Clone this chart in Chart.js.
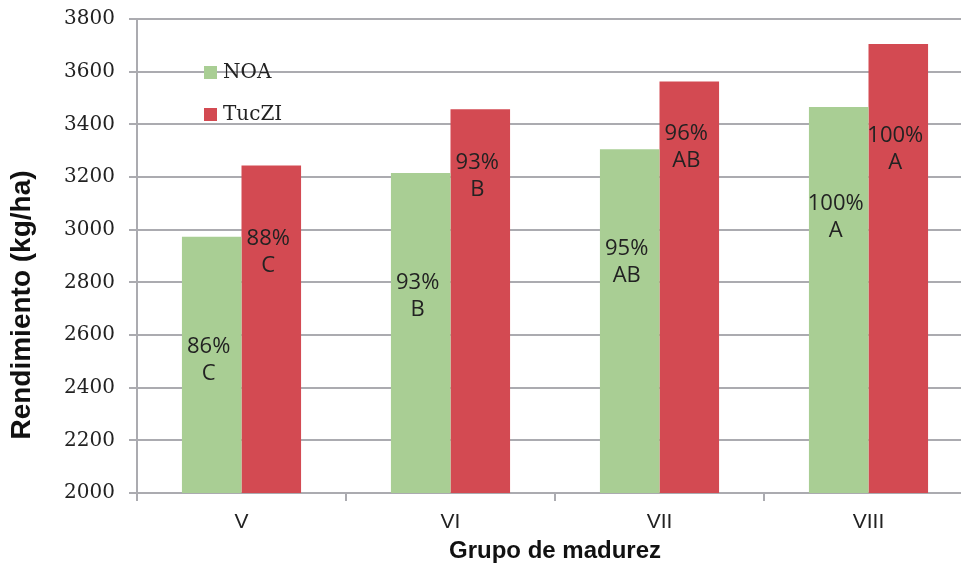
<!DOCTYPE html>
<html>
<head>
<meta charset="utf-8">
<script src="https://cdn.jsdelivr.net/npm/chart.js@4"></script>
<style>
  html, body { margin: 0; padding: 0; background: #fff; overflow: hidden; }
</style>
</head>
<body>
<canvas id="c" width="975" height="566"></canvas>
<script>
const grupos = ['V', 'VI', 'VII', 'VIII']
const noa   = [2973, 3215, 3305, 3466]
const tuczi = [3244, 3457, 3563, 3705]

// etiquetas de cada barra: porcentaje y letra
const noaPct     = ['86%', '93%', '95%', '100%']
const noaLetra   = ['C', 'B', 'AB', 'A']
const tucziPct   = ['88%', '93%', '96%', '100%']
const tucziLetra = ['C', 'B', 'AB', 'A']
// altura (kg/ha) donde va centrada cada etiqueta
const noaLabelAt   = [2505, 2748, 2879, 3050]
const tucziLabelAt = [2915, 3204, 3316, 3306]

const yMin = 2000, yMax = 3800, yStep = 200
const tituloY = 'Rendimiento (kg/ha)'
const tituloX = 'Grupo de madurez'

const verde = '#A9CE94'
const rojo  = '#D34A52'
const gris  = '#ABABB0'

const etiquetas = {
  id: 'etiquetas',
  afterDatasetsDraw(chart) {
    const ctx = chart.ctx
    const y = chart.scales.y
    const sets = [[noaPct, noaLetra, noaLabelAt], [tucziPct, tucziLetra, tucziLabelAt]]
    ctx.save()
    ctx.font = '22px "Open Sans"'
    ctx.fillStyle = '#222'
    ctx.textAlign = 'center'
    ctx.textBaseline = 'middle'
    sets.forEach(([pct, letra, at], i) => {
      chart.getDatasetMeta(i).data.forEach((bar, j) => {
        const cy = y.getPixelForValue(at[j])
        ctx.fillText(pct[j], bar.x - 3, cy - 13)
        ctx.fillText(letra[j], bar.x - 3, cy + 14)
      })
    })
    ctx.restore()
  }
}

const leyenda = {
  id: 'leyenda',
  afterDraw(chart) {
    const ctx = chart.ctx
    const a = chart.chartArea
    ctx.save()
    ctx.font = '20px "DejaVu Serif"'
    ctx.textBaseline = 'middle'
    chart.data.datasets.forEach((ds, i) => {
      const x = a.left + 67
      const yy = a.top + 53 + i * 42
      ctx.fillStyle = ds.backgroundColor
      ctx.fillRect(x, yy - 6, 13, 13)
      ctx.fillStyle = '#222'
      ctx.fillText(ds.label, x + 19, yy + 1)
    })
    ctx.restore()
  }
}

// título del eje Y, algo más abajo del centro como en el original
const tituloEjeY = {
  id: 'tituloEjeY',
  afterDraw(chart) {
    const ctx = chart.ctx
    const a = chart.chartArea
    ctx.save()
    ctx.translate(22, (a.top + a.bottom) / 2 + 49)
    ctx.rotate(-Math.PI / 2)
    ctx.font = 'bold 28px "Liberation Sans"'
    ctx.fillStyle = '#111'
    ctx.textAlign = 'center'
    ctx.textBaseline = 'middle'
    ctx.fillText(tituloY, 0, 0)
    ctx.restore()
  }
}

new Chart(document.getElementById('c'), {
  type: 'bar',
  data: {
    labels: grupos,
    datasets: [
      { label: 'NOA', data: noa, backgroundColor: verde },
      { label: 'TucZI', data: tuczi, backgroundColor: rojo }
    ]
  },
  options: {
    responsive: false,
    animation: false,
    layout: { padding: { top: 19, right: 2, left: 0, bottom: 0 } },
    datasets: { bar: { categoryPercentage: 0.57, barPercentage: 1.0 } },
    plugins: { legend: { display: false }, tooltip: { enabled: false } },
    scales: {
      x: {
        afterFit(s) { s.height = 73 },
        border: { color: gris, width: 2 },
        grid: { offset: true, drawOnChartArea: false, color: gris, tickLength: 8, lineWidth: 2 },
        ticks: { color: '#222', font: { family: 'Liberation Sans', size: 21 }, padding: 9 },
        title: {
          display: true, text: tituloX, color: '#111',
          font: { family: 'Liberation Sans', size: 24, weight: 'bold' }, padding: { top: 0, bottom: 0 }
        }
      },
      y: {
        min: yMin, max: yMax,
        afterFit(s) { s.width = 137; s.paddingTop = 0; s.paddingBottom = 0 },
        border: { color: gris, width: 2 },
        grid: { color: gris, lineWidth: 2, tickLength: 8 },
        ticks: {
          stepSize: yStep, color: '#222', padding: 14,
          font: { family: 'DejaVu Serif', size: 20 },
          callback: v => String(v)
        }
      }
    }
  },
  plugins: [etiquetas, leyenda, tituloEjeY]
})
</script>
</body>
</html>
